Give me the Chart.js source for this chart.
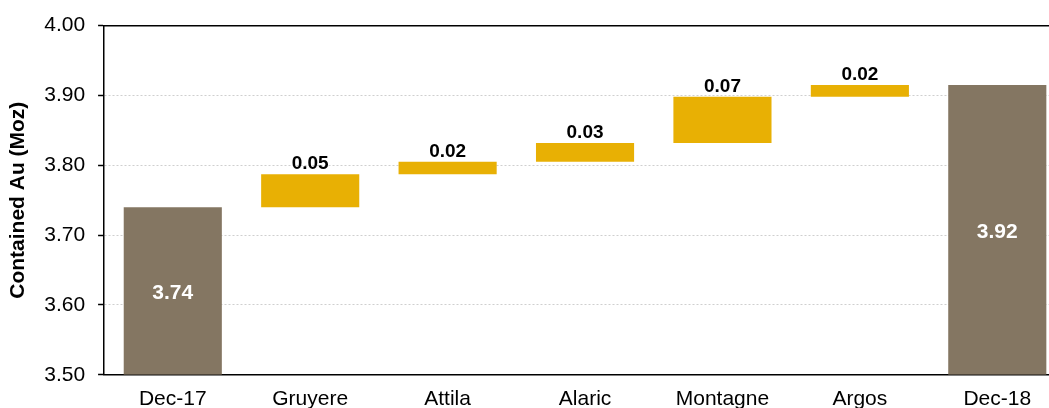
<!DOCTYPE html>
<html><head><meta charset="utf-8">
<script src="https://cdn.jsdelivr.net/npm/chart.js@4.4.0/dist/chart.umd.min.js"></script>
<style>
html,body{margin:0;padding:0;background:#fff;overflow:hidden;width:1049px;height:408px;}
#wrap{position:absolute;left:0;top:0;width:1066px;height:424px;}
</style></head>
<body>
<div id="wrap"><canvas id="c" width="1066" height="424"></canvas></div>
<script>
const categories = ["Dec-17","Gruyere","Attila","Alaric","Montagne","Argos","Dec-18"];
const openingTotal = 3.740;
const deltas = [0.047, 0.018, 0.027, 0.066, 0.017];
const closingTotal = 3.915;
const deltaLabels = ["0.05","0.02","0.03","0.07","0.02"];
const totalLabels = ["3.74","3.92"];
const yTicks = [3.50,3.60,3.70,3.80,3.90,4.00];

const axisMin = 3.5, axisMax = 4.0;
const BROWN = '#847662', GOLD = '#E8B004';
const FF = '"Liberation Sans", Arial, sans-serif';

const ranges = [];
const colors = [];
const labels = [];
ranges.push([axisMin, openingTotal]); colors.push(BROWN); labels.push(totalLabels[0]);
let run = openingTotal;
deltas.forEach((d,i)=>{ ranges.push([run, run+d]); run += d; colors.push(GOLD); labels.push(deltaLabels[i]); });
ranges.push([axisMin, closingTotal]); colors.push(BROWN); labels.push(totalLabels[1]);

const labelPlugin = {
  id:'wfLabels',
  afterDatasetsDraw(chart){
    const ctx = chart.ctx;
    const meta = chart.getDatasetMeta(0);
    ctx.save();
    ctx.textAlign = 'center';
    meta.data.forEach((bar,i)=>{
      const isTotal = (i===0 || i===categories.length-1);
      if(isTotal){
        ctx.fillStyle = '#fff';
        ctx.font = 'bold 21px ' + FF;
        ctx.textBaseline = 'middle';
        ctx.fillText(labels[i], bar.x, (bar.y+bar.base)/2 + 2);
      } else {
        ctx.fillStyle = '#000';
        ctx.font = 'bold 19px ' + FF;
        ctx.textBaseline = 'bottom';
        ctx.fillText(labels[i], bar.x, Math.min(bar.y,bar.base) - 1);
      }
    });
    ctx.restore();
  }
};

new Chart(document.getElementById('c'), {
  type:'bar',
  data:{ labels:categories, datasets:[{ data:ranges, backgroundColor:colors, borderWidth:0, barPercentage:0.714, categoryPercentage:1.0 }]},
  options:{
    responsive:false, animation:false,
    layout:{ padding:{ top:19, left:2, right:0, bottom:0 } },
    plugins:{ legend:{display:false}, tooltip:{enabled:false} },
    scales:{
      x:{
        grid:{ display:false, drawTicks:false },
        border:{ display:true, color:'#000', width:1.5 },
        ticks:{ color:'#000', padding:12, font:{ size:21, family:FF } }
      },
      xTop:{
        position:'top', type:'category', labels:categories,
        grid:{ display:false, drawTicks:false },
        border:{ display:true, color:'#000', width:1.5 },
        ticks:{ display:false }
      },
      y:{
        min:axisMin, max:axisMax,
        afterBuildTicks(scale){ scale.ticks = yTicks.map(v=>({value:v})); },
        grid:{
          color:(c)=> (c.tick && (c.tick.value===axisMin || c.tick.value===axisMax)) ? 'rgba(0,0,0,0)' : '#cfcfcf',
          lineWidth:1, tickLength:6, tickColor:'#000', tickBorderDash:[], tickWidth:1.5
        },
        border:{ display:true, color:'#000', width:1.5, dash:[2,2] },
        ticks:{ color:'#000', padding:13, font:{ size:21, family:FF }, callback:(v)=>Number(v).toFixed(2) },
        title:{ display:true, text:'Contained Au (Moz)', color:'#000', font:{ size:21, weight:'bold', family:FF }, padding:{top:4,bottom:0} }
      }
    }
  },
  plugins:[labelPlugin]
});
</script>
</body></html>
